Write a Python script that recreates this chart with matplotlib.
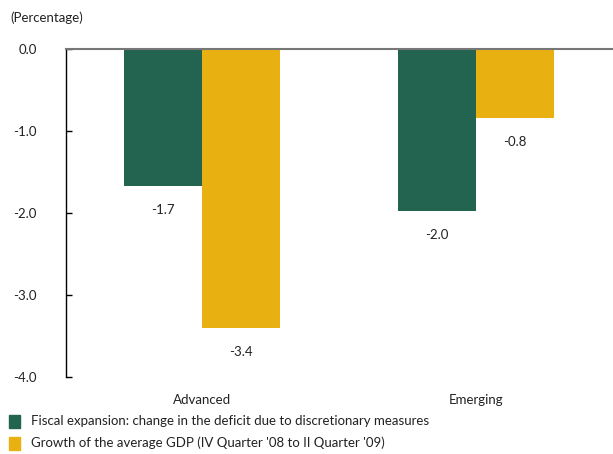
import matplotlib
matplotlib.use("Agg")
import matplotlib.pyplot as plt
from matplotlib.patches import Rectangle

categories = ["Advanced", "Emerging"]
fiscal = [-1.67, -1.97]
gdp = [-3.40, -0.84]
series_names = ["Fiscal expansion: change in the deficit due to discretionary measures",
                "Growth of the average GDP (IV Quarter '08 to II Quarter '09)"]
yticks = [0.0, -1.0, -2.0, -3.0, -4.0]
colors = ["#236450", "#E9B012"]

FS = 9.5
plt.rcParams['font.family'] = ['Lato', 'DejaVu Sans']
fig = plt.figure(figsize=(6.13, 4.54), dpi=100)
W, H = 613, 454
ax = fig.add_axes([66 / W, 1 - 377 / H, (612 - 66) / W, (377 - 49) / H])

x = list(range(len(categories)))
w = 0.285
b1 = ax.bar([i - w / 2 for i in x], fiscal, w, color=colors[0])
b2 = ax.bar([i + w / 2 for i in x], gdp, w, color=colors[1])

for bars, vals in ((b1, fiscal), (b2, gdp)):
    for r, v in zip(bars, vals):
        ax.annotate(f"{v:.1f}", (r.get_x() + r.get_width() / 2, v), xytext=(0, -24),
                    textcoords="offset pixels",
                    ha="center", va="center", fontsize=FS, color="#222222")

ax.set_xlim(-0.496, 1.496)
ax.set_ylim(-4.0, 0.0)
ax.set_yticks(yticks)
ax.set_yticklabels([f"{t:.1f}" for t in yticks], fontsize=FS, color="#222222")
ax.tick_params(axis='y', direction='in', length=4, width=1, pad=21)
ax.set_xticks(x)
ax.set_xticklabels(categories, fontsize=FS, color="#222222")
ax.tick_params(axis='x', length=0, pad=12)
for s in ["right", "bottom"]:
    ax.spines[s].set_visible(False)
ax.spines["top"].set_color("#777777")
ax.spines["top"].set_linewidth(1.5)
ax.spines["left"].set_color("black")
ax.spines["left"].set_linewidth(1)

fig.text(10 / W, 1 - 18 / H, "(Percentage)", fontsize=FS, color="#222222", va="center", ha="left")

for i, (name, c) in enumerate(zip(series_names, colors)):
    yc = 421 + 22 * i
    fig.patches.append(Rectangle((9 / W, 1 - (yc + 7) / H), 11 / W, 13 / H,
                                 transform=fig.transFigure, color=c))
    fig.text(31 / W, 1 - yc / H, name, fontsize=FS, color="#222222", va="center", ha="left")

fig.savefig("out.png", dpi=100)
